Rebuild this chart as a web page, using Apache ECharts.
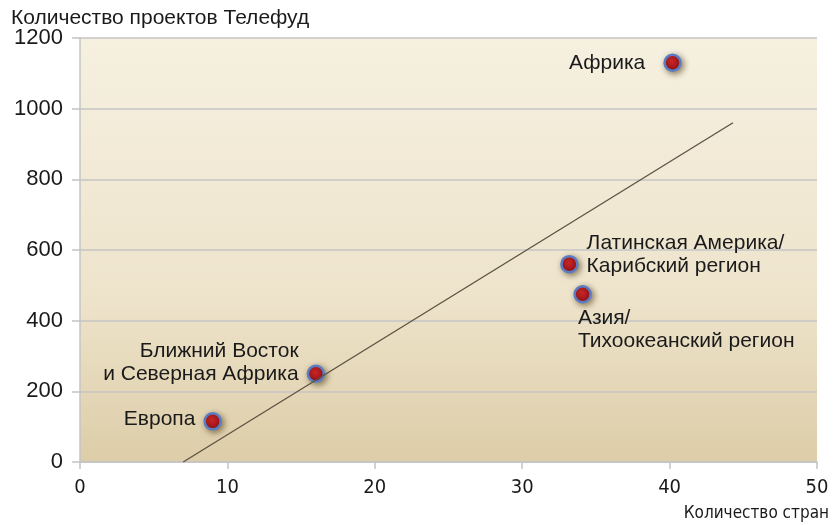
<!DOCTYPE html>
<html lang="ru">
<head>
    <meta charset="UTF-8">
    <title>telefood_scatter</title>
    <style type="text/css">
        html, body { margin: 0; padding: 0; background: #ffffff; }
        #box { width: 834px; height: 525px; }
    </style>
</head>
<body>
<div id="box"></div>
<script type="text/javascript" src="https://cdn.jsdelivr.net/npm/echarts@6/dist/echarts.min.js"></script>
<script type="text/javascript">
    // регионы и значения
    let regions = ['Европа', 'Ближний Восток\nи Северная Африка', 'Латинская Америка/\nКарибский регион', 'Азия/\nТихоокеанский регион', 'Африка'];
    let countries = [9, 16, 33.2, 34.1, 40.2];
    let projects = [115, 250, 560, 475, 1130];
    // линия тренда: начало и конец
    let trendX = [7, 44.3];
    let trendY = [0, 960];
    let xTicks = [0, 10, 20, 30, 40, 50];
    let yTicks = [0, 200, 400, 600, 800, 1000, 1200];

    let mainFont = 'Liberation Sans';
    let narrowFont = 'DejaVu Sans Condensed';

    let labelPos = [
        {position: 'left', offset: [0, -2]},
        {position: 'left', offset: [0, -11]},
        {position: 'right', offset: [0, -9]},
        {position: 'right', offset: [-22, 36]},
        {position: 'left', offset: [-10, 0]}
    ];

    let myChart = echarts.init(document.getElementById('box'));

    let points = regions.map(function (name, i) {
        return {
            name: name,
            value: [countries[i], projects[i]],
            label: labelPos[i]
        };
    });

    let option = {
        animation: false,
        title: [
            {
                text: 'Количество проектов Телефуд',
                left: 6, top: 3,
                textStyle: {fontSize: 21, fontWeight: 'normal', color: '#1a1a1a', fontFamily: mainFont}
            },
            {
                text: 'Количество стран',
                right: 0, top: 500,
                textStyle: {fontSize: 17, fontWeight: 'normal', color: '#1a1a1a', fontFamily: narrowFont}
            }
        ],
        grid: {
            left: 80, right: 17, top: 38, bottom: 63,
            show: true,
            borderWidth: 0,
            backgroundColor: new echarts.graphic.LinearGradient(0, 0, 0, 1, [
                {offset: 0, color: '#f6f0e0'},
                {offset: 0.6, color: '#eee4cc'},
                {offset: 1, color: '#ddcda8'}
            ])
        },
        xAxis: {
            type: 'value',
            min: xTicks[0], max: xTicks[xTicks.length - 1], interval: 10,
            axisLine: {show: true, lineStyle: {color: '#c4c4c4', width: 1.5}},
            axisTick: {show: true, length: 7, lineStyle: {color: '#c4c4c4', width: 1.5}},
            splitLine: {show: false},
            axisLabel: {
                margin: 16, fontSize: 20, color: '#1a1a1a',
                fontFamily: narrowFont
            }
        },
        yAxis: {
            type: 'value',
            min: yTicks[0], max: yTicks[yTicks.length - 1], interval: 200,
            axisLine: {show: true, lineStyle: {color: '#c4c4c4', width: 1.5}},
            axisTick: {show: true, length: 8, lineStyle: {color: '#c4c4c4', width: 1.5}},
            splitLine: {show: true, lineStyle: {color: '#c4c4c4', width: 1.5}},
            axisLabel: {
                margin: 17, fontSize: 22, color: '#1a1a1a', fontFamily: mainFont,
                formatter: function (v) { return String(v); }
            }
        },
        series: [
            {
                type: 'line',
                data: [[trendX[0], trendY[0]], [trendX[1], trendY[1]]],
                showSymbol: false,
                silent: true,
                lineStyle: {color: '#5b5242', width: 1.3}
            },
            {
                type: 'scatter',
                symbolSize: 16,
                data: points,
                itemStyle: {
                    color: new echarts.graphic.RadialGradient(0.45, 0.4, 0.6, [
                        {offset: 0, color: '#e0262e'},
                        {offset: 1, color: '#8e0c14'}
                    ]),
                    borderColor: '#5a7cc4',
                    borderWidth: 2.5,
                    opacity: 1,
                    shadowBlur: 6,
                    shadowOffsetX: 2,
                    shadowOffsetY: 2,
                    shadowColor: 'rgba(60,40,0,0.55)'
                },
                label: {
                    show: true,
                    formatter: '{b}',
                    fontSize: 21,
                    lineHeight: 23,
                    color: '#1a1a1a',
                    fontFamily: mainFont,
                    distance: 8
                }
            }
        ]
    };
    myChart.setOption(option);
</script>
</body>
</html>
